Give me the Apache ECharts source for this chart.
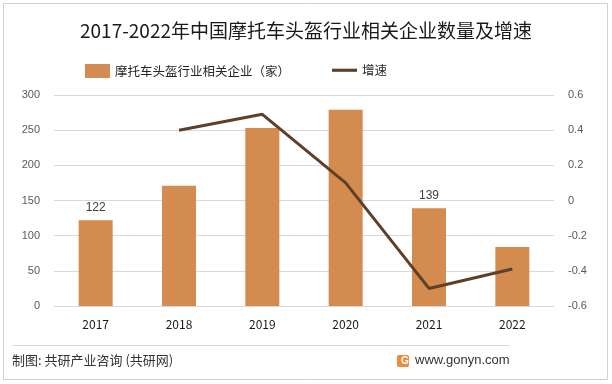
<!DOCTYPE html>
<html><head><meta charset="utf-8">
<script src="https://cdn.jsdelivr.net/npm/echarts@6/dist/echarts.min.js"></script>
<style>html,body{margin:0;padding:0;background:#fff}#c{width:612px;height:384px}</style>
</head><body><div id="c"></div>
<script>
const categories = ['2017','2018','2019','2020','2021','2022'];
const enterpriseCount = [122, 171, 253, 279, 139, 84];
const growthRate = [null, 0.40, 0.49, 0.10, -0.50, -0.39];
const labeledYears = ['2017','2021'];
const leftTicks = [0, 300, 50];
const rightTicks = [-0.6, 0.6, 0.2];

const chart = echarts.init(document.getElementById('c'));
const font = '"Microsoft YaHei","Noto Sans CJK SC",sans-serif';
const legendText = {fontSize: 12.5, color: '#262626', fontFamily: font};
chart.setOption({
  animation: false,
  title: {text: '2017-2022年中国摩托车头盔行业相关企业数量及增速', left: 'center', top: 16,
    textStyle: {fontSize: 19, fontWeight: 'normal', color: '#1a1a1a', fontFamily: font}},
  legend: [
    {left: 80, top: 59, itemGap: 0, textStyle: legendText,
      data: [{name: '摩托车头盔行业相关企业（家）', icon: 'rect', itemWidth: 21, itemHeight: 10}]},
    {left: 327, top: 59, itemGap: 0, textStyle: legendText,
      data: [{name: '增速', icon: 'path://M0,0H24V3H0Z', itemWidth: 24, itemHeight: 3}]}
  ],
  grid: {left: 54, right: 58, top: 95, bottom: 78},
  xAxis: {type: 'category', data: categories,
    axisLine: {lineStyle: {color: '#d9d9d9'}}, axisTick: {show: false},
    axisLabel: {color: '#1a1a1a', fontSize: 12, margin: 12, fontFamily: font}},
  yAxis: [
    {type: 'value', min: leftTicks[0], max: leftTicks[1], interval: leftTicks[2],
      axisLine: {show: false}, axisTick: {show: false},
      axisLabel: {color: '#595959', fontSize: 11, margin: 14},
      splitLine: {lineStyle: {color: '#d9d9d9'}}},
    {type: 'value', min: rightTicks[0], max: rightTicks[1], interval: rightTicks[2],
      axisLine: {show: false}, axisTick: {show: false},
      axisLabel: {color: '#595959', fontSize: 11, margin: 14,
        formatter: v => String(Math.round(v * 10) / 10)},
      splitLine: {show: false}}
  ],
  series: [
    {name: '摩托车头盔行业相关企业（家）', type: 'bar', barWidth: 34,
      itemStyle: {color: '#D38B4F'},
      data: enterpriseCount,
      label: {show: true, position: 'top', color: '#404040', fontSize: 12, distance: 7,
        formatter: p => labeledYears.includes(p.name) ? String(p.value) : ''}},
    {name: '增速', type: 'line', yAxisIndex: 1, data: growthRate,
      symbol: 'none', lineStyle: {color: '#5E4029', width: 3}, itemStyle: {color: '#5E4029'}}
  ],
  graphic: [
    {type: 'rect', shape: {x: 3.5, y: 3.5, width: 604, height: 376}, style: {fill: 'none', stroke: '#d0d0d0', lineWidth: 1}, silent: true},
    {type: 'line', shape: {x1: 12, y1: 345.5, x2: 510, y2: 345.5}, style: {stroke: '#d9d9d9', lineWidth: 1}},
    {type: 'text', left: 12, top: 354, style: {text: '制图: 共研产业咨询 (共研网)', fontSize: 13, fill: '#333', fontFamily: font}},
    {type: 'rect', shape: {x: 397, y: 355, width: 12, height: 12, r: 2}, style: {fill: '#F08A3C'}},
    {type: 'text', left: 401, top: 356, style: {text: 'G', fontSize: 10, fontWeight: 'bold', fill: '#fff'}},
    {type: 'text', left: 415, top: 354, style: {text: 'www.gonyn.com', fontSize: 13, fill: '#333', fontFamily: 'Arial, sans-serif'}}
  ]
});
</script></body></html>
